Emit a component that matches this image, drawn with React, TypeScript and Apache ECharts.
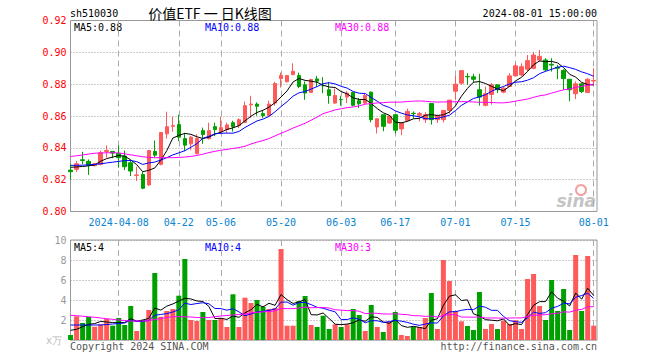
import React, { useEffect, useRef } from "react";
import * as echarts from "echarts";

const dates = [
  "2024-03-25", "2024-03-26", "2024-03-27", "2024-03-28", "2024-03-29",
  "2024-04-01", "2024-04-02", "2024-04-03", "2024-04-08", "2024-04-09", "2024-04-10", "2024-04-11", "2024-04-12",
  "2024-04-15", "2024-04-16", "2024-04-17", "2024-04-18", "2024-04-19", "2024-04-22", "2024-04-23", "2024-04-24",
  "2024-04-25", "2024-04-26", "2024-04-29", "2024-04-30",
  "2024-05-06", "2024-05-07", "2024-05-08", "2024-05-09", "2024-05-10", "2024-05-13", "2024-05-14", "2024-05-15",
  "2024-05-16", "2024-05-17", "2024-05-20", "2024-05-21", "2024-05-22", "2024-05-23", "2024-05-24", "2024-05-27",
  "2024-05-28", "2024-05-29", "2024-05-30", "2024-05-31",
  "2024-06-03", "2024-06-04", "2024-06-05", "2024-06-06", "2024-06-07", "2024-06-11", "2024-06-12", "2024-06-13",
  "2024-06-14", "2024-06-17", "2024-06-18", "2024-06-19", "2024-06-20", "2024-06-21", "2024-06-24", "2024-06-25",
  "2024-06-26", "2024-06-27", "2024-06-28",
  "2024-07-01", "2024-07-02", "2024-07-03", "2024-07-04", "2024-07-05", "2024-07-08", "2024-07-09", "2024-07-10",
  "2024-07-11", "2024-07-12", "2024-07-15", "2024-07-16", "2024-07-17", "2024-07-18", "2024-07-19", "2024-07-22",
  "2024-07-23", "2024-07-24", "2024-07-25", "2024-07-26", "2024-07-29", "2024-07-30", "2024-07-31",
  "2024-08-01",
];

const opens = [
  0.826, 0.8265, 0.8325, 0.8315, 0.8288, 0.8296, 0.8377, 0.8377, 0.8365, 0.8348,
  0.8306, 0.8227, 0.8233, 0.8167, 0.8377, 0.8296, 0.8488, 0.8535, 0.8546, 0.8458,
  0.8425, 0.8363, 0.8508, 0.8458, 0.8533, 0.85, 0.8515, 0.8558, 0.854, 0.856,
  0.867, 0.8675, 0.8615, 0.8602, 0.8681, 0.8835, 0.8815, 0.886, 0.8854, 0.8796,
  0.8748, 0.8833, 0.8792, 0.8765, 0.8681, 0.8704, 0.8719, 0.8748, 0.8696, 0.8681,
  0.875, 0.8531, 0.8608, 0.8556, 0.8608, 0.8519, 0.8571, 0.8617, 0.8605, 0.8577,
  0.8679, 0.8577, 0.8577, 0.8635, 0.8756, 0.8806, 0.8848, 0.8846, 0.8765, 0.8667,
  0.8735, 0.8796, 0.875, 0.8786, 0.8852, 0.8858, 0.8894, 0.89, 0.8952, 0.8952,
  0.8925, 0.8906, 0.8886, 0.8831, 0.874, 0.8802, 0.8748, 0.882,
];
const closes = [
  0.825, 0.83, 0.832, 0.829, 0.83, 0.8369, 0.8383, 0.8367, 0.8338, 0.8281,
  0.8254, 0.823, 0.8146, 0.8383, 0.8354, 0.8496, 0.8533, 0.854, 0.8467, 0.8417,
  0.8467, 0.8458, 0.8483, 0.8508, 0.8515, 0.8527, 0.8544, 0.8533, 0.8577, 0.8665,
  0.8675, 0.8661, 0.8602, 0.8675, 0.8804, 0.8854, 0.8854, 0.8881, 0.8786, 0.8744,
  0.8829, 0.8819, 0.879, 0.8729, 0.8729, 0.8702, 0.8744, 0.8667, 0.8677, 0.8729,
  0.8577, 0.8583, 0.8535, 0.86, 0.8511, 0.8556, 0.8629, 0.8615, 0.8615, 0.8608,
  0.8577, 0.8602, 0.8635, 0.87, 0.88, 0.8885, 0.8846, 0.8831, 0.8719, 0.874,
  0.8796, 0.8765, 0.8775, 0.8852, 0.8915, 0.891, 0.8948, 0.8983, 0.8975, 0.889,
  0.892, 0.89, 0.8835, 0.8765, 0.8802, 0.8754, 0.8831, 0.8823,
];
const lows = [
  0.82, 0.8248, 0.8296, 0.823, 0.8283, 0.829, 0.8338, 0.8335, 0.8275, 0.826,
  0.8223, 0.8192, 0.814, 0.816, 0.8338, 0.829, 0.8458, 0.8502, 0.8442, 0.8379,
  0.8385, 0.8358, 0.8425, 0.8452, 0.8473, 0.8488, 0.8494, 0.8502, 0.8525, 0.8555,
  0.8588, 0.8602, 0.8588, 0.8594, 0.8665, 0.8779, 0.8811, 0.8856, 0.8775, 0.8702,
  0.8744, 0.8783, 0.8744, 0.8677, 0.8677, 0.8665, 0.8681, 0.8661, 0.865, 0.8675,
  0.856, 0.849, 0.8504, 0.855, 0.849, 0.8479, 0.8566, 0.8585, 0.8566, 0.8556,
  0.8546, 0.8556, 0.856, 0.8615, 0.8702, 0.8796, 0.8796, 0.881, 0.8665, 0.8661,
  0.8671, 0.8744, 0.8744, 0.8786, 0.885, 0.885, 0.888, 0.8894, 0.894, 0.8879,
  0.8879, 0.8831, 0.8765, 0.8692, 0.8706, 0.8744, 0.8744, 0.879,
];
const highs = [
  0.83, 0.8317, 0.8375, 0.8327, 0.8306, 0.8383, 0.8415, 0.838, 0.8415, 0.8383,
  0.8323, 0.8281, 0.8248, 0.8385, 0.8446, 0.8496, 0.8627, 0.8596, 0.8608, 0.8494,
  0.8475, 0.8485, 0.8527, 0.8558, 0.8558, 0.8596, 0.8558, 0.857, 0.8585, 0.869,
  0.8727, 0.8686, 0.8633, 0.8696, 0.8815, 0.8873, 0.8856, 0.8931, 0.8873, 0.8817,
  0.8833, 0.8852, 0.8844, 0.8813, 0.8773, 0.8727, 0.8756, 0.8748, 0.8713, 0.8744,
  0.8754, 0.8583, 0.8608, 0.8602, 0.8608, 0.856, 0.8646, 0.8629, 0.8625, 0.8623,
  0.868, 0.8608, 0.8635, 0.87, 0.8852, 0.8889, 0.8869, 0.8865, 0.8865, 0.8785,
  0.8806, 0.8796, 0.8786, 0.8869, 0.8931, 0.8931, 0.8983, 0.9004, 0.9015, 0.8963,
  0.8963, 0.8921, 0.8894, 0.8831, 0.8817, 0.8806, 0.8838, 0.89,
];

// volume in 万手
const volumes = [
  0.5, 2.37, 1.7, 2.3, 1.33, 1.57, 2.1, 1.43, 2.2, 1.5,
  3.4, 0.9, 2.0, 3.0, 6.7, 2.33, 2.9, 3.1, 4.43, 8.1,
  2.0, 1.9, 2.8, 2.0, 2.0, 2.17, 1.3, 4.57, 1.3, 4.23,
  3.7, 4.0, 3.33, 3.1, 3.2, 9.1, 1.43, 1.43, 3.9, 4.4,
  1.5, 1.3, 2.43, 1.1, 1.57, 1.3, 1.57, 3.1, 2.5, 0.9,
  3.5, 1.3, 0.8, 1.83, 2.8, 0.5, 0.4, 1.3, 1.3, 2.2,
  4.7, 1.1, 8.0, 5.9, 2.9, 1.87, 1.4, 1.0, 4.8, 1.1,
  1.6, 1.1, 1.93, 1.6, 1.97, 1.1, 6.1, 6.6, 3.4, 2.0,
  6.0, 2.9, 5.1, 1.0, 8.5, 2.9, 8.4, 1.43,
];

// moving-average values before enough bars exist
const priceMa5Head = [0.8278, 0.828, 0.8283, 0.8287];
const priceMa10Head = [0.829, 0.829, 0.8291, 0.8293, 0.8296, 0.83, 0.8305, 0.831, 0.8315];
const priceMa30Head = [
  0.8346, 0.835, 0.8355, 0.8361, 0.8366, 0.8368, 0.8369, 0.8369, 0.8368, 0.8362,
  0.8356, 0.835, 0.8344, 0.834, 0.8338, 0.8338, 0.8338, 0.8338, 0.834, 0.8342,
  0.8346, 0.8352, 0.836, 0.837, 0.8378, 0.8385, 0.839, 0.8396, 0.8402,
];
const volMa5Head = [0.97, 1.07, 1.33, 1.57];
const volMa10Head = [1.5, 1.5, 1.5, 1.5, 1.5, 1.5, 1.55, 1.6, 1.65];
const volMa30Head = [
  2.47, 2.43, 2.38, 2.33, 2.27, 2.2, 2.13, 2.07, 2.0, 1.95,
  1.9, 1.9, 1.9, 1.95, 2.05, 2.15, 2.25, 2.33, 2.33, 2.33,
  2.3, 2.25, 2.23, 2.25, 2.33, 2.4, 2.45, 2.5, 2.55,
];

const tickDates = [
  "2024-04-08", "2024-04-22", "2024-05-06", "2024-05-20", "2024-06-03",
  "2024-06-17", "2024-07-01", "2024-07-15", "2024-08-01",
];
const tickLabels = ["2024-04-08", "04-22", "05-06", "05-20", "06-03", "06-17", "07-01", "07-15", "08-01"];

const priceMin = 0.8;
const priceMax = 0.92;
const priceStep = 0.02;
const volMin = 0;
const volMax = 10;
const volStep = 2;

const RED = "#ff5a5a";
const GREEN = "#00a000";
const MONO = '"DejaVu Sans Mono", "Liberation Mono", monospace';

function movingAverage(values: number[], n: number, head: number[]): number[] {
  return values.map((_, i) => {
    if (i < n - 1) return head[i];
    let s = 0;
    for (let k = i - n + 1; k <= i; k++) s += values[k];
    return s / n;
  });
}

export default function App() {
  const ref = useRef<HTMLDivElement>(null);

  useEffect(() => {
    if (!ref.current) return;
    const chart = echarts.init(ref.current, undefined, { renderer: "svg" });

    const pMa5 = movingAverage(closes, 5, priceMa5Head);
    const pMa10 = movingAverage(closes, 10, priceMa10Head);
    const pMa30 = movingAverage(closes, 30, priceMa30Head);
    const vMa5 = movingAverage(volumes, 5, volMa5Head);
    const vMa10 = movingAverage(volumes, 10, volMa10Head);
    const vMa30 = movingAverage(volumes, 30, volMa30Head);
    const last = dates.length - 1;

    const tickSet = new Set(tickDates);
    const labelMap: Record<string, string> = {};
    tickDates.forEach((d, i) => (labelMap[d] = tickLabels[i]));
    const showTick = (_i: number, v: string) => tickSet.has(v);

    const candleData = dates.map((_, i) => [opens[i], closes[i], lows[i], highs[i]]);
    const volData = volumes.map((v, i) => ({
      value: v,
      itemStyle: { color: closes[i] >= opens[i] ? RED : GREEN },
    }));

    const vSplit = {
      show: true,
      interval: showTick,
      lineStyle: { color: "#aaaaaa", width: 1, type: [6, 4] as any },
    };
    const hSplit = { show: true, lineStyle: { color: "#999999", width: 1, type: [1, 2] as any } };

    const txt = (x: number, y: number, text: string, fill: string, font: string, align = "left") => ({
      type: "text",
      x,
      y,
      silent: true,
      style: { text, fill, font, align, verticalAlign: "middle" },
    });

    chart.setOption({
      animation: false,
      backgroundColor: "#ffffff",
      grid: [
        { left: 70.5, right: 63, top: 20.5, height: 191, show: true, borderColor: "#999999", borderWidth: 1 },
        { left: 70.6, right: 66.3, top: 20.5, height: 191 },
        { left: 70.5, right: 63, top: 240, height: 100, show: true, borderColor: "#999999", borderWidth: 1 },
        { left: 70.6, right: 66.3, top: 240, height: 100 },
      ],
      xAxis: [
        { gridIndex: 0, type: "value", min: 0, max: 1, show: false },
        {
          gridIndex: 1,
          type: "category",
          data: dates,
          boundaryGap: false,
          axisLine: { show: false },
          axisTick: { show: false },
          axisLabel: {
            interval: showTick,
            formatter: (v: string) => labelMap[v] || "",
            color: "#0a84d0",
            fontFamily: MONO,
            fontSize: 10,
            margin: 6,
          },
          splitLine: vSplit,
        },
        { gridIndex: 2, type: "value", min: 0, max: 1, show: false },
        {
          gridIndex: 3,
          type: "category",
          data: dates,
          boundaryGap: false,
          axisLine: { show: false },
          axisTick: { show: false },
          axisLabel: { show: false },
          splitLine: vSplit,
        },
      ],
      yAxis: [
        {
          gridIndex: 0,
          type: "value",
          min: priceMin,
          max: priceMax,
          interval: priceStep,
          axisLine: { show: false },
          axisTick: { show: false },
          axisLabel: {
            color: "#ff0000",
            fontFamily: MONO,
            fontSize: 10,
            margin: 4,
            formatter: (v: number) => v.toFixed(2),
          },
          splitLine: hSplit,
        },
        { gridIndex: 1, type: "value", min: priceMin, max: priceMax, show: false },
        {
          gridIndex: 2,
          type: "value",
          min: volMin,
          max: volMax,
          interval: volStep,
          axisLine: { show: false },
          axisTick: { show: false },
          axisLabel: {
            color: "#999999",
            fontFamily: MONO,
            fontSize: 10,
            margin: 4,
            formatter: (v: number) => (v === 0 ? "" : String(v)),
          },
          splitLine: hSplit,
        },
        { gridIndex: 3, type: "value", min: volMin, max: volMax, show: false },
      ],
      series: [
        {
          type: "candlestick",
          xAxisIndex: 1,
          yAxisIndex: 1,
          data: candleData,
          barWidth: 4,
          clip: false,
          itemStyle: { color: RED, color0: GREEN, borderColor: RED, borderColor0: GREEN, borderWidth: 1 },
        },
        { type: "line", xAxisIndex: 1, yAxisIndex: 1, data: pMa5, symbol: "none", lineStyle: { color: "#000000", width: 1 } },
        { type: "line", xAxisIndex: 1, yAxisIndex: 1, data: pMa10, symbol: "none", lineStyle: { color: "#0000ff", width: 1 } },
        { type: "line", xAxisIndex: 1, yAxisIndex: 1, data: pMa30, symbol: "none", lineStyle: { color: "#ff00ff", width: 1 } },
        { type: "bar", xAxisIndex: 3, yAxisIndex: 3, data: volData, barWidth: 5 },
        { type: "line", xAxisIndex: 3, yAxisIndex: 3, data: vMa5, symbol: "none", lineStyle: { color: "#000000", width: 1 } },
        { type: "line", xAxisIndex: 3, yAxisIndex: 3, data: vMa10, symbol: "none", lineStyle: { color: "#0000ff", width: 1 } },
        { type: "line", xAxisIndex: 3, yAxisIndex: 3, data: vMa30, symbol: "none", lineStyle: { color: "#ff00ff", width: 1 } },
      ],
      graphic: [
        txt(70, 13, "sh510030", "#000000", `10px ${MONO}`),
        txt(210, 13, "价值ETF 一 日K线图", "#000000", '14px "Noto Sans CJK SC"', "center"),
        txt(597, 13, "2024-08-01 15:00:00", "#000000", `10px ${MONO}`, "right"),
        txt(74, 27, "MA5:" + pMa5[last].toFixed(2), "#000000", `10px ${MONO}`),
        txt(205, 27, "MA10:" + pMa10[last].toFixed(2), "#0000ff", `10px ${MONO}`),
        txt(335, 27, "MA30:" + pMa30[last].toFixed(2), "#ff00ff", `10px ${MONO}`),
        txt(74, 247, "MA5:" + Math.round(vMa5[last]), "#000000", `10px ${MONO}`),
        txt(205, 247, "MA10:" + Math.round(vMa10[last]), "#0000ff", `10px ${MONO}`),
        txt(335, 247, "MA30:" + Math.round(vMa30[last]), "#ff00ff", `10px ${MONO}`),
        txt(70, 346, "Copyright 2024 SINA.COM", "#555555", `10px ${MONO}`),
        txt(597, 346, "http://finance.sina.com.cn", "#555555", `10px ${MONO}`, "right"),
        txt(62, 340, "x万", "#bbbbbb", `10px ${MONO}`, "right"),
        {
          type: "circle",
          silent: true,
          shape: { cx: 581, cy: 190, r: 5 },
          style: { fill: "none", stroke: "#f2a0a0", lineWidth: 2 },
        },
        txt(596, 201, "sina", "#c4c4c4", 'italic bold 17px "DejaVu Sans"', "right"),
      ],
    });

    return () => chart.dispose();
  }, []);

  return (
    <div
      ref={ref}
      style={{ position: "fixed", left: 0, top: 0, width: 660, height: 360, background: "#fff" }}
    />
  );
}
